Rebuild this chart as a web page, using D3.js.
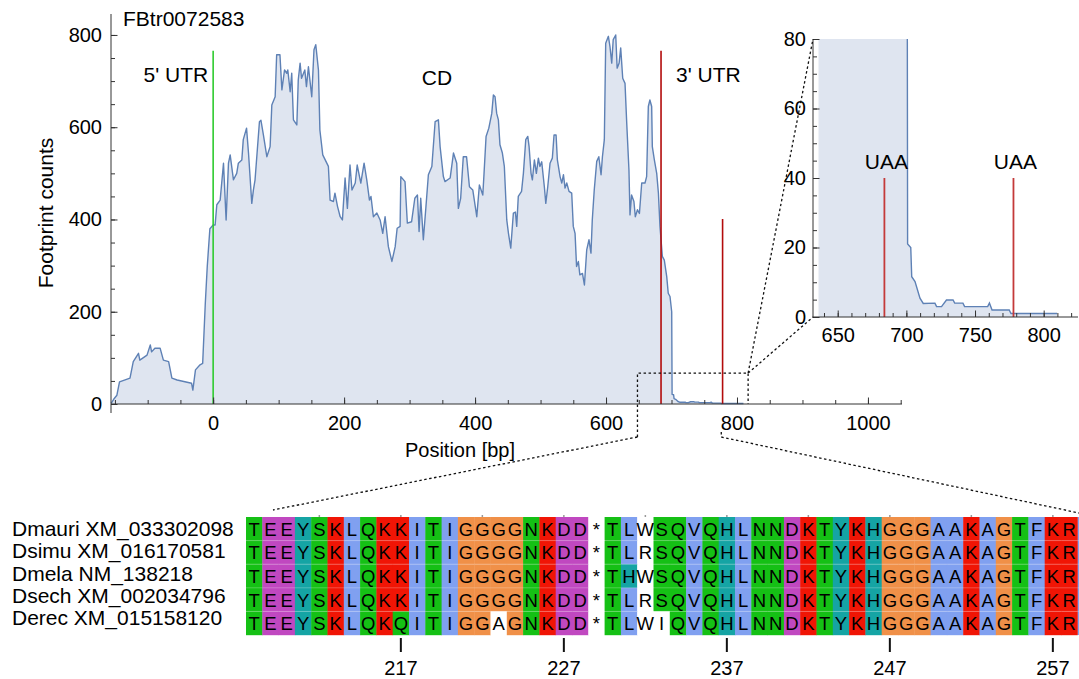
<!DOCTYPE html>
<html><head><meta charset="utf-8">
<script src="https://cdn.jsdelivr.net/npm/d3@7"></script>
<style>
body{margin:0;background:#fff}
svg{display:block}
text{font-family:"Liberation Sans",Arial,sans-serif;fill:#000}
</style>
</head><body>
<svg id="c" width="1079" height="679"></svg>
<script>
// ---------------- data ----------------
const transcriptId = "FBtr0072583";
// [position (bp), footprint count]
const footprintProfile = [
[-156,2],[-155,3],[-151,12],[-147,19],[-143,48],[-127,56],[-122,92],[-114,110],[-112,95],[-101,106],
[-96,128],[-94,113],[-89,121],[-81,121],[-76,95],[-68,92],[-63,56],[-55,52],[-33,45],[-31,30],
[-27,74],[-20,85],[-16,88],[-12,218],[-9,298],[-5,380],[0,388],[3,388],[5.6,432],[10.7,442],
[15.8,522],[19.8,399],[23.4,522],[26,540],[31,486],[36,500],[38.5,522],[43.8,529],[46,573],[51,598],
[54,544],[59,435],[61.5,464],[64,486],[70.7,612],[73,615],[76.8,583],[82,536],[87,558],[89.6,648],
[94.7,666],[97,757],[102,757],[105,681],[109,724],[112.5,717],[114,724],[117.6,677],[120,717],[122.6,616],
[127.8,605],[130,703],[132.8,739],[135,706],[140,724],[142.5,688],[145.5,731],[150.6,666],[154,768],[156.7,779],
[160.8,724],[163,594],[167.4,540],[176,515],[178.6,442],[183.7,439],[186,457],[190,428],[194,406],[197.4,399],
[199,435],[201.5,490],[205,424],[209,518],[212,464],[217,479],[220,518],[225.5,479],[230.5,522],[234.6,486],
[238.7,442],[241,450],[244.7,406],[250,414],[255,399],[259,370],[262.6,406],[267.6,341],[273,309],[278,341],
[281,381],[285.5,385],[286.6,493],[293,482],[296.6,392],[303,395],[308,446],[312,453],[314.5,374],[317,446],
[321,356],[325,428],[328.7,497],[334,515],[339,612],[344,616],[346.6,558],[351.6,493],[354,482],[362,490],
[367,544],[372,522],[374.5,424],[378,446],[382,536],[387,536],[391.4,471],[396.5,464],[402.6,406],[406.6,475],
[411.8,453],[413.7,500],[416.8,580],[421,598],[425.5,630],[428,670],[430.5,666],[433,630],[435.6,616],[438,562],
[441.7,544],[444.7,515],[448.4,399],[451,370],[454.5,338],[458.5,414],[461.6,416],[463.6,385],[466,450],[471,461],
[473.8,500],[477.4,573],[480.5,580],[482.5,558],[485.5,500],[487.5,486],[490.6,529],[493.6,500],[496.7,533],[499,515],
[501.8,525],[505.8,471],[508,435],[511,471],[514.5,522],[518,533],[520.6,583],[523.7,583],[525.7,529],[529.8,493],
[532.4,479],[535,497],[537.4,468],[540,479],[543.5,461],[547.6,457],[550,385],[552.7,370],[555,298],[557.8,309],
[560,280],[564,283],[567,258],[570.5,334],[574,356],[577,327],[579,399],[582,464],[585.8,526],[589,536],
[592.4,497],[594.5,536],[597.4,573],[599.5,782],[603.6,797],[606,775],[608.7,739],[611,790],[614.8,800],[617,728],
[620,739],[622.4,772],[625.5,706],[629,695],[631.6,609],[635,508],[636.6,410],[639,453],[642.6,439],[644.7,406],
[648,421],[651,413],[654.5,479],[659.5,479],[662,493],[664.6,645],[667,659],[669.7,645],[670.7,558],[673.8,529],
[677.4,500],[680,457],[682.4,385],[686,320],[689,312],[692.7,276],[695,240],[697.7,233],[700.3,200],[700.9,21],
[703.2,20],[703.9,11.6],[706.3,10.2],[709.9,5.4],[712.3,3.9],[720.8,4],[722,3],[725.6,3],[729.2,4.9],[734,4.9],
[735.2,4],[741.2,4],[742.4,3],[759.2,3],[760.5,4],[762.4,2],[774.9,2],[776.2,1],[809.8,1]
];
const regionLabels = ["5' UTR", "CD", "3' UTR"];
const startCodonPos = 0, stopCodonPos = 684, secondStopPos = 778;
const mainMarkerHeights = [766, 766, 401];   // green, red, red
const insetMarkerHeight = 40;
const insetStart = 636;
const xTicksMain = [0,200,400,600,800,1000];
const yTicksMain = [0,200,400,600,800];
const xTicksInset = [650,700,750,800];
const yTicksInset = [0,20,40,60,80];

const seqNames = ["Dmauri XM_033302098","Dsimu XM_016170581","Dmela NM_138218","Dsech XM_002034796","Derec XM_015158120"];
const sequences = [
"TEEYSKLQKKITIGGGGNKDD*TLWSQVQHLNNDKTYKHGGGAAKAGTFKR",
"TEEYSKLQKKITIGGGGNKDD*TLRSQVQHLNNDKTYKHGGGAAKAGTFKR",
"TEEYSKLQKKITIGGGGNKDD*THWSQVQHLNNDKTYKHGGGAAKAGTFKR",
"TEEYSKLQKKITIGGGGNKDD*TLRSQVQHLNNDKTYKHGGGAAKAGTFKR",
"TEEYSKLQKQITIGGAGNKDD*TLWIQVQHLNNDKTYKHGGGAAKAGTFKR"
];
const firstResidue = 208;
const rulerTicks = [217,227,237,247,257];
const unconservedCells = [[0,24],[1,24],[2,24],[3,24],[4,24],[4,15],[4,25]]; // [row, column] left uncoloured

// ---------------- styles ----------------
const lineColor = "#5e81b5", fillColor = "#dfe5f0";
const green = "#2fcb2f", darkRed = "#b30c0c", insetRed = "#c43a3a";
const residueColors = {
  T:"#15c015",S:"#15c015",N:"#15c015",Q:"#15c015",
  E:"#c048c0",D:"#c048c0",
  Y:"#15a4a4",H:"#15a4a4",
  K:"#f01505",R:"#f01505",
  L:"#80a0f0",I:"#80a0f0",V:"#80a0f0",A:"#80a0f0",F:"#80a0f0",W:"#80a0f0",M:"#80a0f0",
  G:"#f09048","*":"#ffffff"
};

const svg = d3.select("#c");

// ---------------- main chart ----------------
const x = d3.scaleLinear().domain([-156, 1052]).range([111, 902]);
const y = d3.scaleLinear().domain([0, 845]).range([404, 14.2]);

const area = d3.area().x(d=>x(d[0])).y0(y(0)).y1(d=>y(d[1]));
const line = d3.line().x(d=>x(d[0])).y(d=>y(d[1]));

svg.append("path").datum(footprintProfile).attr("d", area).attr("fill", fillColor);
svg.append("path").datum(footprintProfile).attr("d", line).attr("fill","none")
   .attr("stroke", lineColor).attr("stroke-width",1.4).attr("stroke-linejoin","round");

// markers
svg.append("line").attr("x1",x(startCodonPos)).attr("x2",x(startCodonPos)).attr("y1",y(0)).attr("y2",y(mainMarkerHeights[0]))
   .attr("stroke",green).attr("stroke-width",1.6);
svg.append("line").attr("x1",x(stopCodonPos)).attr("x2",x(stopCodonPos)).attr("y1",y(0)).attr("y2",y(mainMarkerHeights[1]))
   .attr("stroke",darkRed).attr("stroke-width",1.6);
svg.append("line").attr("x1",x(secondStopPos)).attr("x2",x(secondStopPos)).attr("y1",y(0)).attr("y2",y(mainMarkerHeights[2]))
   .attr("stroke",darkRed).attr("stroke-width",1.6);

// axes
const fmt = d3.format("d");
function styleAxis(g){ g.select(".domain").remove(); g.selectAll("line").attr("stroke","#333").attr("stroke-width",1);
  g.selectAll("text").style("font-family",'"Liberation Sans",Arial,sans-serif').style("font-size","20px").attr("fill","#000"); }

svg.append("g").attr("transform",`translate(${x.range()[0]},0)`)
  .call(d3.axisLeft(y).tickValues(d3.range(0,850,50)).tickSize(-4).tickFormat("")).call(styleAxis);
svg.append("g").attr("transform",`translate(${x.range()[0]},0)`)
  .call(d3.axisLeft(y).tickValues(yTicksMain).tickSize(-6.5).tickPadding(9).tickFormat(fmt)).call(styleAxis);
svg.append("g").attr("transform",`translate(0,${y(0)})`)
  .call(d3.axisBottom(x).tickValues(d3.range(-150,1051,50)).tickSize(-4).tickFormat("")).call(styleAxis);
svg.append("g").attr("transform",`translate(0,${y(0)})`)
  .call(d3.axisBottom(x).tickValues(xTicksMain).tickSize(-6.5).tickPadding(12).tickFormat(fmt)).call(styleAxis);
svg.append("line").attr("x1",x.range()[0]).attr("x2",x.range()[0]).attr("y1",14).attr("y2",413).attr("stroke","#333");
svg.append("line").attr("x1",x.range()[0]).attr("x2",x.range()[1]).attr("y1",y(0)).attr("y2",y(0)).attr("stroke","#333");

svg.append("text").attr("x",460).attr("y",457).attr("text-anchor","middle").style("font-size","20px").text("Position [bp]");
svg.append("text").attr("transform","translate(53,213) rotate(-90)").attr("text-anchor","middle").style("font-size","21px").text("Footprint counts");
svg.append("text").attr("x",123).attr("y",26).style("font-size","21px").text(transcriptId);
svg.append("text").attr("x",x(startCodonPos)-5).attr("y",82).attr("text-anchor","end").style("font-size","21px").text(regionLabels[0]);
svg.append("text").attr("x",437).attr("y",85).attr("text-anchor","middle").style("font-size","21px").text(regionLabels[1]);
svg.append("text").attr("x",x(stopCodonPos)+15).attr("y",82).style("font-size","21px").text(regionLabels[2]);

// ---------------- inset ----------------
const xi = d3.scaleLinear().domain([632, 825]).range([813, 1078]);
const yi = d3.scaleLinear().domain([0, 80]).range([317, 39]);
svg.append("clipPath").attr("id","ic").append("rect")
  .attr("x",xi(insetStart)).attr("y",yi(80)).attr("width",xi(825)-xi(insetStart)).attr("height",yi(0)-yi(80));
const ig = svg.append("g").attr("clip-path","url(#ic)");
const areaI = d3.area().x(d=>xi(d[0])).y0(yi(0)).y1(d=>yi(d[1]));
const lineI = d3.line().x(d=>xi(d[0])).y(d=>yi(d[1]));
ig.append("path").datum(footprintProfile).attr("d",areaI).attr("fill",fillColor);
ig.append("path").datum(footprintProfile).attr("d",lineI).attr("fill","none").attr("stroke",lineColor).attr("stroke-width",1.4);
[stopCodonPos, secondStopPos].forEach(p=>{
  svg.append("line").attr("x1",xi(p)).attr("x2",xi(p)).attr("y1",yi(0)).attr("y2",yi(insetMarkerHeight))
    .attr("stroke",insetRed).attr("stroke-width",1.8);
  svg.append("text").attr("x",xi(p)+2).attr("y",yi(insetMarkerHeight)-9).attr("text-anchor","middle").style("font-size","21px").text("UAA");
});
svg.append("g").attr("transform",`translate(${xi.range()[0]},0)`)
  .call(d3.axisLeft(yi).tickValues(d3.range(0,81,5)).tickSize(-4).tickFormat("")).call(styleAxis);
svg.append("g").attr("transform",`translate(${xi.range()[0]},0)`)
  .call(d3.axisLeft(yi).tickValues(yTicksInset).tickSize(-6.5).tickPadding(7).tickFormat(fmt)).call(styleAxis);
svg.append("g").attr("transform",`translate(0,${yi(0)})`)
  .call(d3.axisBottom(xi).tickValues(d3.range(640,821,10)).tickSize(-4).tickFormat("")).call(styleAxis);
svg.append("g").attr("transform",`translate(0,${yi(0)})`)
  .call(d3.axisBottom(xi).tickValues(xTicksInset).tickSize(-6.5).tickPadding(11).tickFormat(fmt)).call(styleAxis);
svg.append("line").attr("x1",xi.range()[0]).attr("x2",xi.range()[0]).attr("y1",yi(80)).attr("y2",yi(0)).attr("stroke","#333");
svg.append("line").attr("x1",xi.range()[0]).attr("x2",xi.range()[1]).attr("y1",yi(0)).attr("y2",yi(0)).attr("stroke","#333");

// ---------------- zoom indicators ----------------
const dash = g => g.attr("fill","none").attr("stroke","#111").attr("stroke-width",1.3).attr("stroke-dasharray","2.5,2.5");
const rx0 = x(648), rx1 = x(817), ry = y(67), below = y(0)+33;
svg.append("path").attr("d",`M${rx0},${below}L${rx0},${ry}L${rx1},${ry}L${rx1},${y(0)}`).call(dash);
svg.append("path").attr("d",`M${rx1},${ry}L${xi(632)},${yi(80)}M${rx1},${ry}L${xi(632)},${yi(0)}`).call(dash);
const rx2 = x(776);
svg.append("path").attr("d",`M${rx0},${below}L273,510`).call(dash);
svg.append("path").attr("d",`M${rx2},${below-5}L${rx2},${below}L1079,513`).call(dash);

// ---------------- alignment ----------------
const nCols = sequences[0].length;
const colX = d3.scaleBand().domain(d3.range(nCols + 1)).range([246, 246 + (nCols+1)*16.3]).paddingInner(0);
const rowY = d3.scaleBand().domain(d3.range(sequences.length)).range([517, 635]);
const uncons = new Set(unconservedCells.map(d=>d[0]+"_"+d[1]));
const ag = svg.append("g");
// trailing, cut-off column edge at the right border
ag.append("rect").attr("x",colX(nCols)).attr("y",517).attr("width",colX.bandwidth()).attr("height",118).attr("fill","#80a0f0");
sequences.forEach((s,r)=>{
  s.split("").forEach((ch,c)=>{
    const col = uncons.has(r+"_"+c) ? "#ffffff" : (residueColors[ch]||"#ffffff");
    ag.append("rect").attr("x",colX(c)).attr("y",rowY(r)).attr("width",colX.bandwidth()+0.4).attr("height",rowY.bandwidth()+0.2).attr("fill",col);
  });
});
// faint row separators
d3.range(1,sequences.length).forEach(r=>{
  ag.append("line").attr("x1",246).attr("x2",1079).attr("y1",rowY(r)).attr("y2",rowY(r)).attr("stroke","#fff").attr("stroke-opacity",0.25);
});
sequences.forEach((s,r)=>{
  s.split("").forEach((ch,c)=>{
    ag.append("text").attr("x",colX(c)+colX.bandwidth()/2).attr("y",rowY(r)+rowY.bandwidth()/2+7)
      .attr("text-anchor","middle").style("font-size","18.5px").attr("fill","#111").text(ch);
  });
});
// small ruler marks at top every 5 residues
d3.range(nCols).filter(c=>(firstResidue+c)%5===2).forEach(c=>{
  ag.append("rect").attr("x",colX(c)+colX.bandwidth()/2-0.75).attr("y",515).attr("width",1.5).attr("height",2).attr("fill","#999");
});
rulerTicks.forEach(t=>{
  const cx = colX(t-firstResidue)+colX.bandwidth()/2;
  ag.append("line").attr("x1",cx).attr("x2",cx).attr("y1",638).attr("y2",652).attr("stroke","#111").attr("stroke-width",2);
  ag.append("text").attr("x",cx).attr("y",675).attr("text-anchor","middle").style("font-size","20px").text(t);
});
seqNames.forEach((n,i)=>{
  svg.append("text").attr("x",12).attr("y",536+i*22.3).style("font-size","21px").text(n);
});
</script>
</body></html>
